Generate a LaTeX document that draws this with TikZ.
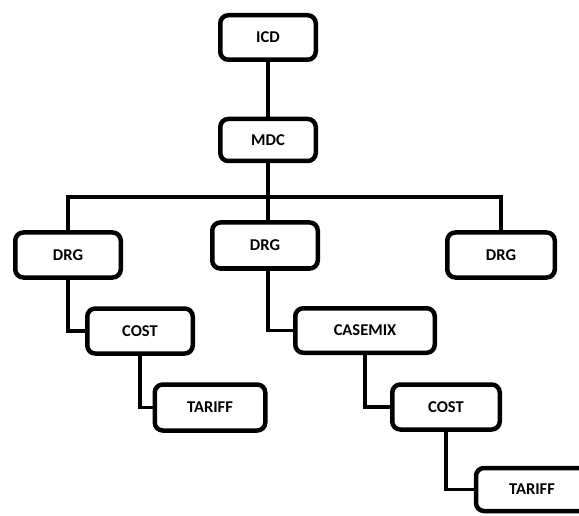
\documentclass[tikz,border=0pt]{standalone}
\usepackage{fontspec}
\setmainfont{Carlito}
\begin{document}
\begin{tikzpicture}[x=1pt,y=-1pt,
  box/.style={draw=black, line width=4.5pt, rounded corners=8pt, fill=white,
    inner sep=0pt, font=\fontsize{16.5}{18}\selectfont\bfseries,
    minimum height=45pt},
  link/.style={draw=black, line width=3.3pt}]
\useasboundingbox (0,0) rectangle (579,516);
\fill[white] (0,0) rectangle (579,516);
\coordinate (jn) at (270,197);
\node[box, minimum width=95.5pt, minimum height=44.5pt] (icd) at (268,37.5) {ICD};
\node[box, minimum width=95.5pt, minimum height=42pt] (mdc) at (268,140) {MDC};
\node[box, minimum width=105.5pt] (drgA) at (68,255) {DRG};
\node[box, minimum width=105.5pt, minimum height=46pt] (drgB) at (265,245.5) {DRG};
\node[box, minimum width=107.5pt] (drgC) at (501,255) {DRG};
\node[box, minimum width=105.5pt] (costA) at (140,331) {COST};
\node[box, minimum width=110.5pt, minimum height=46pt] (tarA) at (210,407.5) {TARIFF};
\node[box, minimum width=139.5pt, minimum height=44.5pt] (mix) at (365,330.5) {CASEMIX};
\node[box, minimum width=107.5pt] (costB) at (446,407) {COST};
\node[box, minimum width=112pt, minimum height=43pt] (tarB) at (532,489.5) {TARIFF};
\path[link] (icd.south) -- (mdc.north);
\path[link] (mdc.south) -- (mdc.south |- drgB.north);
\path[link] (drgA.north) |- (jn) -| (drgC.north);
\path[link] (drgA.south) |- (costA.west);
\path[link] (costA.south) |- (tarA.west);
\path[link] (mdc.south |- drgB.south) |- (mix.west);
\path[link] (mix.south) |- (costB.west);
\path[link] (costB.south) |- (tarB.west);
\end{tikzpicture}
\end{document}
